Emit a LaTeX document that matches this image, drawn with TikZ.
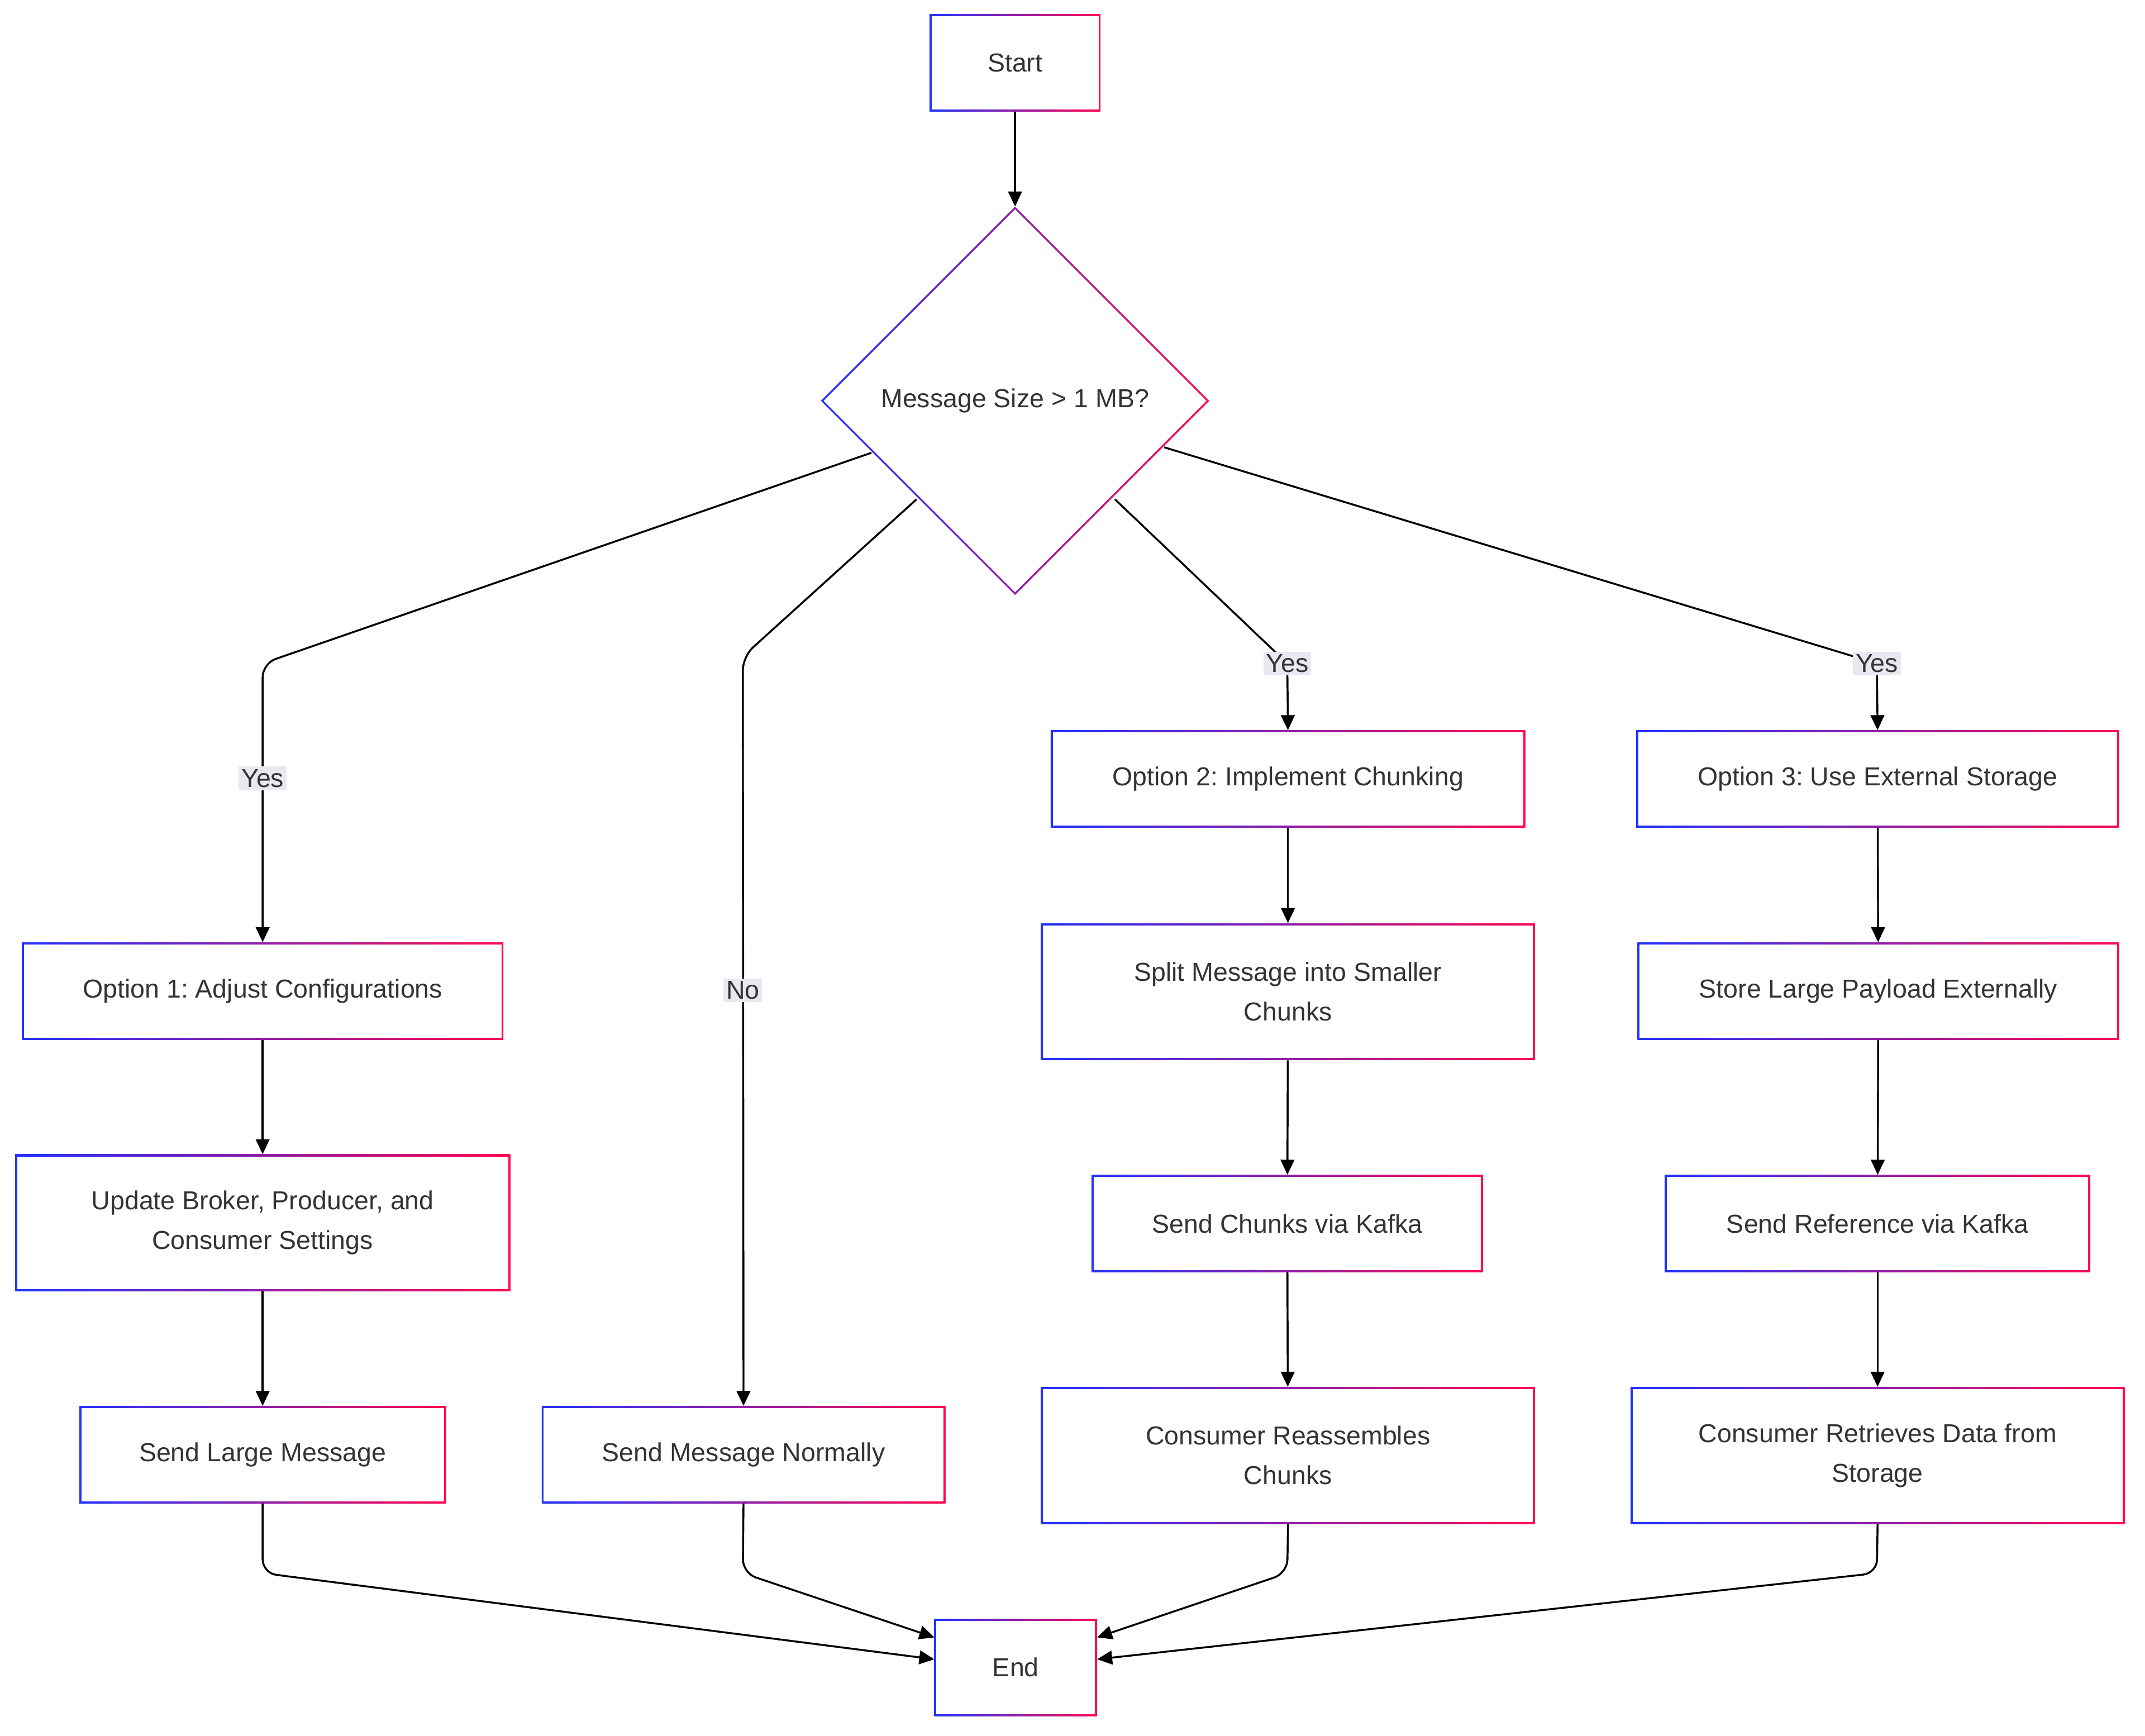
\documentclass[tikz,border=0pt]{standalone}
\usepackage{fontspec}
\setmainfont{Liberation Sans}
\usetikzlibrary{arrows.meta,shapes.geometric}
\definecolor{gb}{HTML}{2233FF}
\definecolor{gr}{HTML}{FF0A50}
\definecolor{lbl}{HTML}{E8E8F0}
\definecolor{txt}{HTML}{333333}
\frenchspacing
\newcommand\gbox[5]{%
  \node[minimum width=#3pt, minimum height=#4pt, inner sep=0, left color=gb, right color=gr] (#1) at (#2) {};
  \node[fill=white, minimum width=#3pt-3pt, minimum height=#4pt-3pt, inner sep=0, align=center, text=txt, font=\fontsize{19}{29}\selectfont] at (#1) {#5};}
\begin{document}
\begin{tikzpicture}[x=1pt,y=-1pt,
  edge/.style={line width=1.4pt, rounded corners=10pt, -{Triangle[length=11pt,width=10pt]}},
  lab/.style={fill=lbl, inner sep=2pt, text=txt, font=\fontsize{19}{22}\selectfont}]
\useasboundingbox (0,0) rectangle (1568,1269);
\gbox{start}{742,46}{125}{71}{Start}
\node[diamond, minimum width=284pt, minimum height=284pt, inner sep=0, left color=gb, right color=gr, aspect=1] (dec) at (742,293) {};
\node[diamond, minimum width=280pt, minimum height=280pt, inner sep=0, fill=white, aspect=1] at (742,293) {};
\node[text=txt, font=\fontsize{19}{22}\selectfont] at (742,293) {Message Size > 1 MB?};
\gbox{o1}{192,724.5}{352}{71}{Option 1: Adjust Configurations}
\gbox{up}{192,894}{362}{100}{Update Broker, Producer, and\\Consumer Settings}
\gbox{sl}{192,1063.5}{268}{71}{Send Large Message}
\gbox{sn}{543.5,1063.5}{295}{71}{Send Message Normally}
\gbox{o2}{941.5,569.5}{347}{71}{Option 2: Implement Chunking}
\gbox{sp}{941.5,725}{361}{100}{Split Message into Smaller\\Chunks}
\gbox{sc}{941,894.5}{286}{71}{Send Chunks via Kafka}
\gbox{ra}{941.5,1064}{361}{100}{Consumer Reassembles\\Chunks}
\gbox{o3}{1372.5,569.5}{353}{71}{Option 3: Use External Storage}
\gbox{st}{1373,724.5}{352}{71}{Store Large Payload Externally}
\gbox{sr}{1372.5,894.5}{311}{71}{Send Reference via Kafka}
\gbox{rt}{1372.5,1064}{361}{100}{Consumer Retrieves Data from\\Storage}
\gbox{en}{742.5,1219}{119}{71}{End}
\coordinate (a1) at (637,331); \coordinate (b1) at (192,485);
\coordinate (a2) at (670,365); \coordinate (b2) at (543,480);
\coordinate (a3) at (815,365); \coordinate (b3) at (941,485);
\coordinate (a4) at (851,327); \coordinate (b4) at (1372,485);
\coordinate (c1) at (192,1150); \coordinate (c2) at (543,1150);
\coordinate (c3) at (941,1150); \coordinate (c4) at (1372,1150);
\draw[edge] (start.south) -- (742,151);
\draw[edge] (a1) -- (b1) -- (o1.north);
\node[lab] at (192,569) {Yes};
\draw[edge] (a2) -- (b2) -- (sn.north);
\node[lab] at (543,724) {No};
\draw[line width=1.4pt] (a3) -- (b3);
\draw[edge] (b3) -- (o2.north);
\node[lab] at (b3) {Yes};
\draw[line width=1.4pt] (a4) -- (b4);
\draw[edge] (b4) -- (o3.north);
\node[lab] at (b4) {Yes};
\draw[edge] (o1) -- (up); \draw[edge] (up) -- (sl);
\draw[edge] (o2) -- (sp); \draw[edge] (sp) -- (sc); \draw[edge] (sc) -- (ra);
\draw[edge] (o3) -- (st); \draw[edge] (st) -- (sr); \draw[edge] (sr) -- (rt);
\draw[edge] (sl.south) -- (c1) -- (683,1213);
\draw[edge] (sn.south) -- (c2) -- (683,1197);
\draw[edge] (ra.south) -- (c3) -- (802,1197);
\draw[edge] (rt.south) -- (c4) -- (802,1213);
\end{tikzpicture}
\end{document}
